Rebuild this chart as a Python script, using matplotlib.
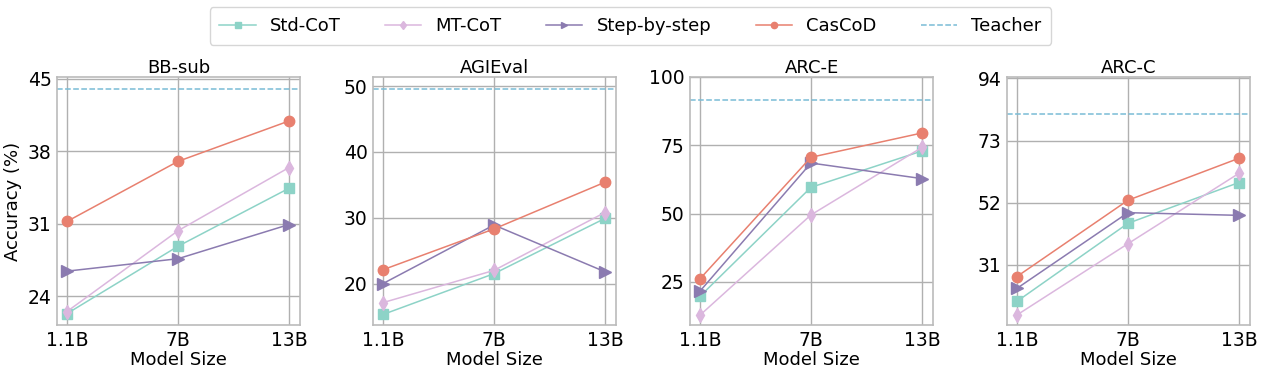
import matplotlib
matplotlib.use("Agg")
import matplotlib.pyplot as plt

sizes = ["1.1B", "7B", "13B"]
benchmarks = ["BB-sub", "AGIEval", "ARC-E", "ARC-C"]

std_cot = {"BB-sub": [22.3, 28.8, 34.4], "AGIEval": [15.3, 21.5, 29.9],
           "ARC-E": [19.7, 59.6, 72.9], "ARC-C": [18.6, 45.0, 58.8]}
mt_cot = {"BB-sub": [22.5, 30.3, 36.4], "AGIEval": [17.1, 22.0, 30.8],
          "ARC-E": [12.8, 49.5, 74.2], "ARC-C": [14.0, 38.1, 61.9]}
step_by_step = {"BB-sub": [26.4, 27.6, 30.9], "AGIEval": [20.0, 28.9, 21.8],
                "ARC-E": [21.6, 68.5, 62.8], "ARC-C": [23.0, 48.6, 47.7]}
cascod = {"BB-sub": [31.2, 37.0, 40.9], "AGIEval": [22.1, 28.3, 35.4],
          "ARC-E": [26.1, 70.6, 79.5], "ARC-C": [27.0, 52.8, 67.0]}
teacher = {"BB-sub": 44.0, "AGIEval": 49.5, "ARC-E": 91.7, "ARC-C": 82.0}

yticks = {"BB-sub": [24, 31, 38, 45], "AGIEval": [20, 30, 40, 50],
          "ARC-E": [25, 50, 75, 100], "ARC-C": [31, 52, 73, 94]}
ylims = {"BB-sub": (21.2, 45.15), "AGIEval": (13.7, 51.4),
         "ARC-E": (9.2, 100.0), "ARC-C": (10.6, 94.5)}

series = [
    ("Std-CoT", std_cot, "#8dd3c7", "s"),
    ("MT-CoT", mt_cot, "#dbb7de", "d"),
    ("Step-by-step", step_by_step, "#8b7bb0", ">"),
    ("CasCoD", cascod, "#e8806f", "o"),
]
teacher_color = "#79bcd6"

W, H = 1261, 369
fig = plt.figure(figsize=(W / 100, H / 100), dpi=100)
lefts = [57, 373, 690, 1007]
axw = 243
top, bottom = 77, 325

handles = []
for i, b in enumerate(benchmarks):
    ax = fig.add_axes([lefts[i] / W, 1 - bottom / H, axw / W, (bottom - top) / H])
    x = list(range(len(sizes)))
    for name, d, c, m in series:
        ms = 8 if m == ">" else 7.5
        h, = ax.plot(x, d[b], color=c, marker=m, markersize=ms, linewidth=1.1, label=name)
        if i == 0:
            handles.append(h)
    th = ax.axhline(teacher[b], color=teacher_color, linestyle="--", linewidth=1.1, label="Teacher")
    if i == 0:
        handles.append(th)
    ax.set_xticks(x)
    ax.set_xticklabels(sizes)
    ax.set_xlim(-0.09, 2.1)
    ax.set_yticks(yticks[b])
    ax.set_ylim(*ylims[b])
    ax.grid(True, color="#b0b0b0", linewidth=1.0)
    ax.set_axisbelow(True)
    for s in ax.spines.values():
        s.set_color("#bbbbbb")
        s.set_linewidth(1.2)
    ax.tick_params(axis="both", labelsize=13.5, length=0, pad=4)
    ax.set_title(b, fontsize=13, pad=3)
    ax.set_xlabel("Model Size", fontsize=13, labelpad=1)
    if i == 0:
        ax.set_ylabel("Accuracy (%)", fontsize=13, labelpad=4)

fig.legend(handles=handles, loc="upper center", ncol=5, fontsize=13,
           bbox_to_anchor=(0.5, 1.005), frameon=True, markerscale=0.6,
           columnspacing=2.45, handlelength=2.0, borderpad=0.55)

fig.savefig("out.png", dpi=100)
